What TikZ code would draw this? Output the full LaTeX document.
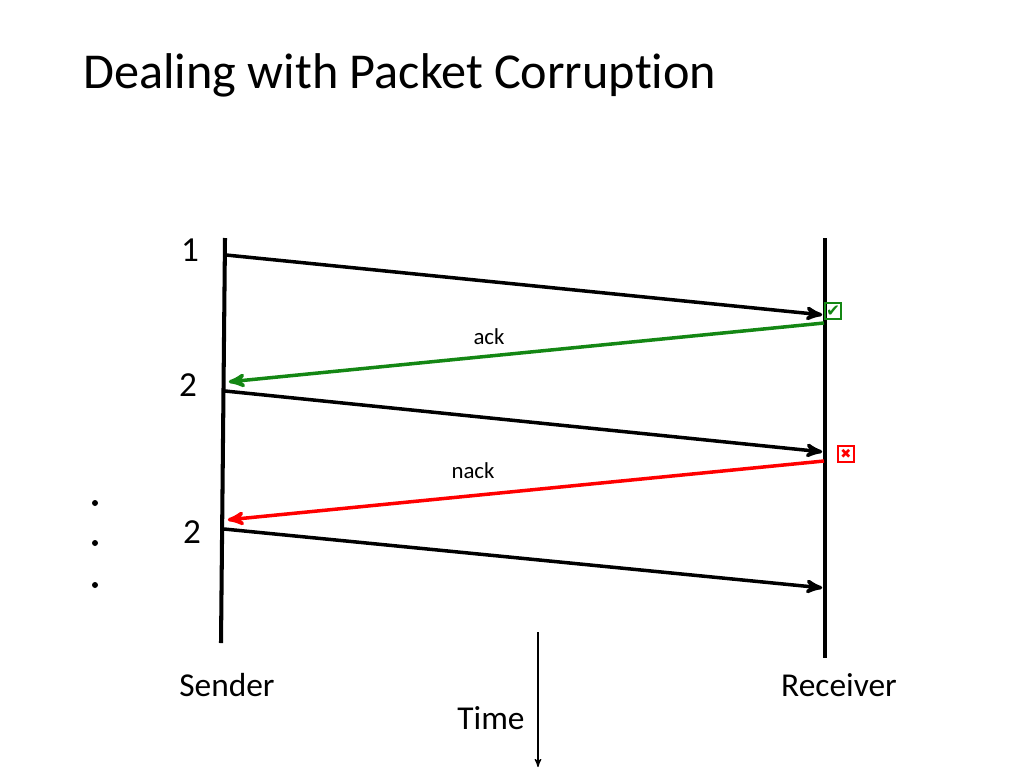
\documentclass[tikz,border=0pt]{standalone}
\usepackage{fontspec}
\setmainfont{Carlito}[Ligatures=NoCommon]
\newfontfamily\symfont{DejaVu Sans}
\usetikzlibrary{arrows}
\tikzset{
	lbl/.style = {inner sep=0pt, font=\fontsize{19}{21}\selectfont},
	seqnum/.style = {lbl, font=\fontsize{20}{22}\selectfont},% numero de paquet
	msg/.style = {->, >=stealth', line width=2pt, shorten >=1pt},
	ackmsg/.style = {msg, draw=okgreen},% ack vert
	nackmsg/.style = {msg, draw=red},% nack rouge
	msglbl/.style = {inner sep=0pt, font=\fontsize{13}{15}\selectfont},
	markbox/.style = {draw, line width=1.1pt, inner sep=0pt, minimum size=9.5pt}
}
\definecolor{okgreen}{RGB}{20,135,20}

\begin{document}
\begin{tikzpicture}[x=0.02cm, y=-0.02cm]
	\useasboundingbox (0,0) rectangle (1024,768);
	% titre
	\node[anchor=base west, inner sep=0pt, font=\fontsize{28.6}{32}\selectfont]
		(title) at (83,88) {Dealing with Packet Corruption};
	% lignes de temps
	\coordinate (sTop) at (225,238);
	\coordinate (sBot) at (221,643);
	\coordinate (rTop) at (825,238);
	\coordinate (rBot) at (825,658);
	\draw[line width=2.3pt] (sTop) -- (sBot);
	\draw[line width=2.3pt] (rTop) -- (rBot);
	% points de depart / arrivee
	\coordinate (s1) at (226,255);  \coordinate (r1) at (824,315);
	\coordinate (r2) at (824,323);  \coordinate (s2) at (227,382);
	\coordinate (s3) at (225,391);  \coordinate (r3) at (824,452);
	\coordinate (r4) at (824,461);  \coordinate (s4) at (226,520);
	\coordinate (s5) at (224,529);  \coordinate (r5) at (824,588);
	\draw[msg] (s1) -- (r1);
	\draw[ackmsg] (r2) -- (s2);
	\draw[msg] (s3) -- (r3);
	\draw[nackmsg] (r4) -- (s4);
	\draw[msg] (s5) -- (r5);
	% etiquettes
	\node[seqnum] (n1) at (190,250) {1};
	\node[seqnum] (n2) at (188,385) {2};
	\node[seqnum] (n3) at (192,532) {2};
	\node[msglbl] (ack) at (489,337) {ack};
	\node[msglbl] (nack) at (473,471) {nack};
	% marques ok / erreur
	\node[markbox, draw=okgreen, text=okgreen,
		font=\symfont\fontsize{9.5}{9.5}\selectfont] (okbox) at (833,311) {✔};
	\node[markbox, draw=red, text=red, minimum size=9pt,
		font=\symfont\fontsize{7.5}{7.5}\selectfont] (errbox) at (846,454) {✖};
	% points de suspension
	\foreach \y in {503,543,585}
		\fill (95,\y) circle (3);
	\node[lbl] (sender) at (227,685) {Sender};
	\node[lbl] (receiver) at (839,685) {Receiver};
	\node[lbl] (time) at (491,718) {Time};
	\coordinate (tTop) at (538,632);
	\coordinate (tBot) at (538,767);
	\draw[->, >=stealth', line width=0.7pt] (tTop) -- (tBot);
\end{tikzpicture}
\end{document}
